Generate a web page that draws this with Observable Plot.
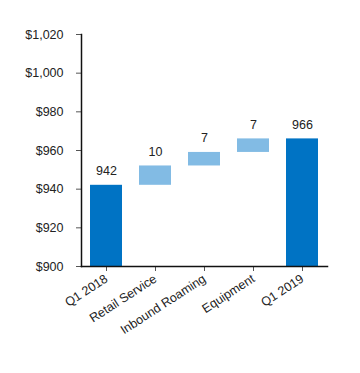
<!DOCTYPE html>
<html>
<head>
<meta charset="utf-8">
<script src="https://cdn.jsdelivr.net/npm/d3@7"></script>
<script src="https://cdn.jsdelivr.net/npm/@observablehq/plot@0.6"></script>
<style>
  body { margin: 0; background: #fff; }
  #chart svg { font-family: "Liberation Sans", Arial, Helvetica, sans-serif; }
</style>
</head>
<body>
<div id="chart"></div>
<script>
const categories = ["Q1 2018", "Retail Service", "Inbound Roaming", "Equipment", "Q1 2019"];
const values = [942, 10, 7, 7, 966];
const kinds = ["total", "delta", "delta", "delta", "total"];
const yTicks = [900, 920, 940, 960, 980, 1000, 1020];

let running = 0;
const rows = categories.map((c, i) => {
  let y1, y2;
  if (kinds[i] === "total") { y1 = 900; y2 = values[i]; running = values[i]; }
  else { y1 = running; y2 = running + values[i]; running = y2; }
  return { cat: c, y1, y2, value: values[i], kind: kinds[i] };
});

const chart = Plot.plot({
  width: 360,
  height: 373,
  marginLeft: 81,
  marginRight: 33,
  marginTop: 34,
  marginBottom: 107,
  style: { fontFamily: "Liberation Sans, Arial, Helvetica, sans-serif", fontSize: "12px", color: "#222" },
  x: { domain: categories, paddingInner: 0.35, paddingOuter: 0.175, label: null },
  y: { domain: [900, 1020], label: null },
  color: { domain: ["total", "delta"], range: ["#0073C4", "#82BBE4"] },
  marks: [
    Plot.barY(rows, { x: "cat", y1: "y1", y2: "y2", fill: "kind", inset: 0 }),
    Plot.text(rows, { x: "cat", y: "y2", text: d => String(d.value), dy: -14, fontSize: 12.5, fill: "#222" }),
    Plot.axisY({ ticks: yTicks, tickFormat: d => "$" + d3.format(",")(d), tickSize: 5, tickPadding: 13, fontSize: 12.5, label: null, stroke: "#555" }),
    Plot.axisX({ tickSize: 5, tickRotate: -33, tickPadding: 6, fontSize: 12.5, label: null, stroke: "#555" }),
    Plot.frame({ anchor: "left", stroke: "#111", strokeWidth: 1.5 }),
    Plot.frame({ anchor: "bottom", stroke: "#111", strokeWidth: 1.5 })
  ]
});
document.getElementById("chart").appendChild(chart);
</script>
</body>
</html>
